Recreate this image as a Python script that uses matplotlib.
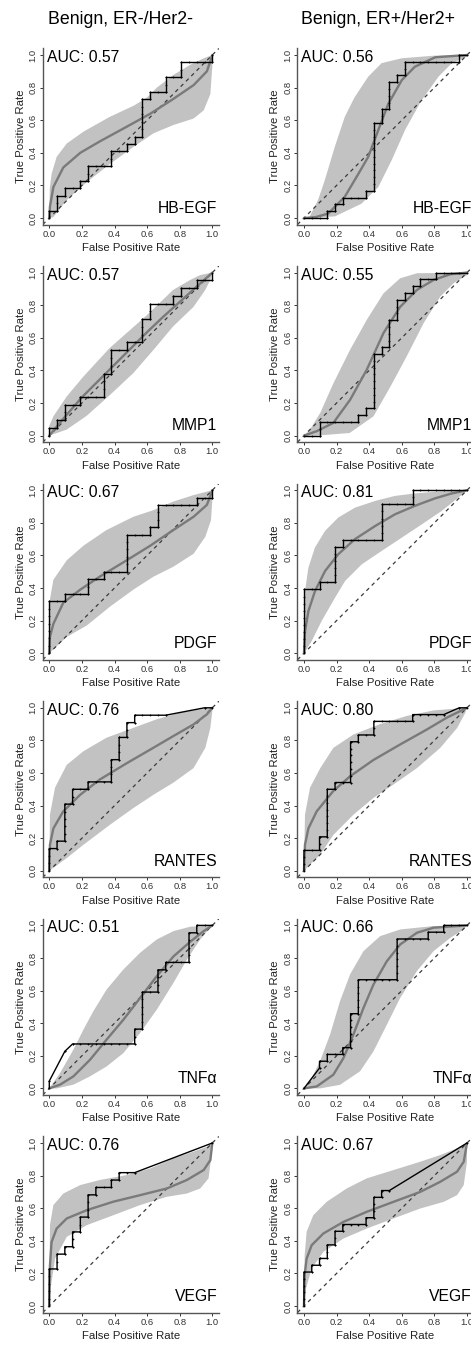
import matplotlib
matplotlib.use("Agg")
import matplotlib.pyplot as plt
import numpy as np

plt.rcParams['font.family'] = ['Liberation Sans', 'DejaVu Sans']

# ---------------- data ----------------
column_titles = ["Benign, ER-/Her2-", "Benign, ER+/Her2+"]
markers = ["HB-EGF", "MMP1", "PDGF", "RANTES", "TNF\u03b1", "VEGF"]
auc_neg = [0.57, 0.57, 0.67, 0.76, 0.51, 0.76]
auc_pos = [0.56, 0.55, 0.81, 0.80, 0.66, 0.67]
n_controls = 21
n_cases_neg = [22, 21, 22, 22, 22, 22]
n_cases_pos = [24, 24, 23, 24, 24, 24]
tick_values = [0.0, 0.2, 0.4, 0.6, 0.8, 1.0]
tick_labels = ["0.0", "0.2", "0.4", "0.6", "0.8", "1.0"]

# empirical ROC vertices, in counts of controls (FPR) and cases (TPR)
hbegf_neg_step_fp = [0,0,1,1,2,2,4,4,5,5,8,8,10,10,11,11,12,12,13,13,15,15,17,17,21,21]
hbegf_neg_step_tp = [0,1,1,3,3,4,4,5,5,7,7,9,9,10,10,11,11,16,16,17,17,19,19,21,21,22]
hbegf_pos_step_fp = [0,3,3,4,4,5,5,8,8,9,9,10,10,11,11,12,12,13,13,20,20,21]
hbegf_pos_step_tp = [0,0,1,1,2,2,3,3,4,4,14,14,16,16,20,20,21,21,23,23,24,24]
mmp1_neg_step_fp = [0,0,1,1,2,2,4,4,7,7,8,8,10,10,12,12,13,13,16,16,17,17,19,19,21,21]
mmp1_neg_step_tp = [0,1,1,2,2,4,4,5,5,8,8,11,11,12,12,15,15,17,17,18,18,19,19,20,20,21]
mmp1_pos_step_fp = [0,2,2,7,7,8,8,9,9,10,10,11,11,12,12,13,13,14,14,15,15,17,17,21]
mmp1_pos_step_tp = [0,0,2,2,3,3,4,4,12,12,13,13,17,17,20,20,21,21,22,22,23,23,24,24]
pdgf_neg_step_fp = [0,0,2,2,5,5,7,7,10,10,13,13,14,14,19,19,21,21]
pdgf_neg_step_tp = [0,7,7,8,8,10,10,11,11,16,16,17,17,20,20,21,21,22]
pdgf_pos_step_fp = [0,0,2,2,4,4,5,5,10,10,14,14,21]
pdgf_pos_step_tp = [0,9,9,10,10,15,15,16,16,21,21,23,23]
rantes_neg_step_fp = [0,0,1,1,2,2,3,3,5,5,8,8,9,9,10,10,11,11,15,20,21]
rantes_neg_step_tp = [0,3,3,4,4,9,9,11,11,12,12,15,15,18,18,20,20,21,21,22,22]
rantes_pos_step_fp = [0,0,2,2,3,3,4,4,6,6,7,7,9,9,14,14,18,20,21]
rantes_pos_step_tp = [0,3,3,5,5,12,12,13,13,19,19,20,20,22,22,23,23,24,24]
tnfa_neg_step_fp = [0,0,2,3,11,11,12,12,14,14,15,15,18,18,19,19,21]
tnfa_neg_step_tp = [0,1,5,6,6,8,8,13,13,16,16,17,17,21,21,22,22]
tnfa_pos_step_fp = [0,2,2,3,3,5,5,6,6,7,7,12,12,16,16,18,18,21]
tnfa_pos_step_tp = [0,3,4,4,5,5,6,6,11,11,16,16,22,22,23,23,24,24]
vegf_neg_step_fp = [0,0,1,1,2,2,3,3,4,4,5,5,6,6,8,8,9,9,11,21]
vegf_neg_step_tp = [0,5,5,7,7,8,8,10,10,12,12,15,15,16,16,17,17,18,18,22]
vegf_pos_step_fp = [0,0,1,1,2,2,3,3,4,4,5,5,8,8,9,9,10,10,11,21]
vegf_pos_step_tp = [0,5,5,6,6,7,7,9,9,11,11,12,12,13,13,16,16,17,17,24]

# smoothed ROC curves (FPR, TPR)
hbegf_neg_fit_x = [0,0.004,0.025,0.086,0.19,0.31,0.475,0.62,0.76,0.885,0.967,1]
hbegf_neg_fit_y = [0,0.07,0.19,0.31,0.40,0.47,0.56,0.64,0.73,0.815,0.90,1]
hbegf_pos_fit_x = [0,0.07,0.148,0.25,0.333,0.394,0.456,0.517,0.6,0.68,0.805,1]
hbegf_pos_fit_y = [0,0.005,0.027,0.13,0.27,0.375,0.54,0.70,0.846,0.928,0.986,1]
mmp1_neg_fit_x = [0,0.1,0.2,0.3,0.4,0.5,0.6,0.7,0.8,0.9,1]
mmp1_neg_fit_y = [0,0.12,0.235,0.335,0.435,0.535,0.635,0.73,0.82,0.91,1]
mmp1_pos_fit_x = [0,0.078,0.18,0.283,0.385,0.488,0.59,0.693,0.795,0.898,1]
mmp1_pos_fit_y = [0,0.027,0.078,0.22,0.404,0.63,0.79,0.894,0.955,0.99,1]
pdgf_neg_fit_x = [0,0.004,0.025,0.086,0.19,0.31,0.475,0.62,0.76,0.885,0.967,1]
pdgf_neg_fit_y = [0,0.1,0.18,0.31,0.39,0.47,0.57,0.66,0.755,0.837,0.91,1]
pdgf_pos_fit_x = [0,0.006,0.027,0.067,0.129,0.21,0.313,0.436,0.558,0.68,0.804,0.906,1]
pdgf_pos_fit_y = [0,0.135,0.258,0.38,0.504,0.607,0.70,0.78,0.852,0.904,0.95,0.98,1]
rantes_neg_fit_x = [0,0.004,0.025,0.086,0.19,0.31,0.475,0.62,0.76,0.885,0.967,1]
rantes_neg_fit_y = [0,0.16,0.26,0.365,0.467,0.56,0.66,0.744,0.826,0.898,0.96,1]
rantes_pos_fit_x = [0,0.006,0.027,0.078,0.18,0.283,0.426,0.59,0.754,0.877,1]
rantes_pos_fit_y = [0,0.16,0.26,0.365,0.49,0.58,0.68,0.775,0.867,0.94,1]
tnfa_neg_fit_x = [0,0.066,0.148,0.25,0.352,0.455,0.557,0.66,0.762,0.865,0.947,1]
tnfa_neg_fit_y = [0,0.023,0.074,0.176,0.30,0.422,0.555,0.689,0.81,0.90,0.965,1]
tnfa_pos_fit_x = [0,0.078,0.18,0.242,0.303,0.365,0.426,0.508,0.59,0.693,0.795,1]
tnfa_pos_fit_y = [0,0.012,0.084,0.186,0.33,0.494,0.637,0.78,0.883,0.955,0.986,1]
vegf_neg_fit_x = [0,0.004,0.014,0.045,0.107,0.23,0.393,0.557,0.721,0.844,0.947,0.988,1]
vegf_neg_fit_y = [0,0.25,0.393,0.475,0.537,0.588,0.64,0.68,0.721,0.773,0.834,0.895,1]
vegf_pos_fit_x = [0,0.004,0.016,0.047,0.119,0.242,0.385,0.549,0.713,0.836,0.939,0.98,1]
vegf_pos_fit_y = [0,0.19,0.29,0.373,0.445,0.516,0.578,0.639,0.70,0.762,0.824,0.885,1]

# confidence band edges (upper and lower), FPR / TPR
hbegf_neg_up_x = [0,0.003,0.014,0.045,0.107,0.21,0.37,0.52,0.6,0.66,0.76,0.865,0.947,1]
hbegf_neg_up_y = [0,0.18,0.27,0.375,0.457,0.53,0.62,0.69,0.74,0.80,0.877,0.94,0.98,1]
hbegf_neg_lo_x = [0,0.025,0.107,0.23,0.37,0.516,0.64,0.76,0.885,0.947,0.988,1,1]
hbegf_neg_lo_y = [0,0.006,0.11,0.22,0.33,0.436,0.52,0.57,0.61,0.66,0.76,0.93,1]
hbegf_pos_up_x = [0.03,0.086,0.127,0.19,0.25,0.31,0.394,0.476,0.6,0.8,1]
hbegf_pos_up_y = [0,0.11,0.23,0.44,0.62,0.74,0.867,0.95,0.98,0.996,1]
hbegf_pos_lo_x = [0.03,0.19,0.353,0.456,0.538,0.62,0.72,0.825,0.907,1]
hbegf_pos_lo_y = [0,0.01,0.088,0.19,0.355,0.54,0.72,0.867,0.95,0.99]
mmp1_neg_up_x = [0,0,0.025,0.107,0.21,0.37,0.6,0.76,0.865,0.926,1]
mmp1_neg_up_y = [0,0.06,0.118,0.24,0.363,0.537,0.74,0.894,0.955,0.985,1]
mmp1_neg_lo_x = [0,0.107,0.23,0.373,0.516,0.64,0.76,0.885,0.957,0.988,1]
mmp1_neg_lo_y = [0,0.037,0.122,0.25,0.384,0.527,0.67,0.79,0.894,0.955,1]
mmp1_pos_up_x = [0,0.037,0.1,0.18,0.283,0.385,0.488,0.59,0.693,1]
mmp1_pos_up_y = [0,0.037,0.14,0.32,0.527,0.71,0.873,0.965,0.996,1]
mmp1_pos_lo_x = [0.078,0.28,0.426,0.53,0.63,0.734,0.836,0.918,1]
mmp1_pos_lo_y = [0,0.016,0.118,0.3,0.486,0.69,0.853,0.935,0.985]
pdgf_neg_up_x = [0,0.004,0.025,0.107,0.21,0.35,0.516,0.64,0.76,0.885,1]
pdgf_neg_up_y = [0,0.33,0.45,0.57,0.66,0.755,0.837,0.878,0.93,0.97,1]
pdgf_neg_lo_x = [0,0.107,0.23,0.373,0.516,0.64,0.76,0.885,0.957,0.992,1,1]
pdgf_neg_lo_y = [0,0.1,0.17,0.286,0.39,0.47,0.53,0.61,0.714,0.816,0.94,1]
pdgf_pos_up_x = [0,0.006,0.027,0.067,0.129,0.21,0.313,0.436,0.558,0.68,0.824,1]
pdgf_pos_up_y = [0,0.38,0.525,0.648,0.75,0.832,0.893,0.934,0.965,0.98,0.992,1]
pdgf_pos_lo_x = [0,0.047,0.108,0.19,0.252,0.354,0.476,0.6,0.722,0.845,0.947,1]
pdgf_pos_lo_y = [0,0.074,0.197,0.34,0.443,0.545,0.627,0.709,0.79,0.873,0.955,0.996]
rantes_neg_up_x = [0,0.004,0.035,0.107,0.21,0.35,0.516,0.66,0.8,0.926,1]
rantes_neg_up_y = [0,0.344,0.51,0.65,0.734,0.816,0.877,0.93,0.97,0.99,1]
rantes_neg_lo_x = [0,0.107,0.21,0.373,0.516,0.64,0.76,0.885,0.957,0.988,1,1]
rantes_neg_lo_y = [0,0.078,0.16,0.283,0.385,0.467,0.54,0.63,0.754,0.877,0.98,1]
rantes_pos_up_x = [0,0.006,0.037,0.1,0.18,0.303,0.467,0.63,0.795,1]
rantes_pos_up_y = [0,0.344,0.51,0.63,0.754,0.836,0.9,0.95,0.984,1]
rantes_pos_lo_x = [0,0.1,0.18,0.303,0.426,0.55,0.693,0.836,0.94,0.99,1]
rantes_pos_lo_y = [0,0.1,0.22,0.344,0.447,0.53,0.63,0.754,0.877,0.97,1]
tnfa_neg_up_x = [0,0.066,0.148,0.209,0.27,0.352,0.455,0.557,0.66,0.762,0.865,1]
tnfa_neg_up_y = [0,0.094,0.238,0.36,0.473,0.607,0.73,0.832,0.914,0.965,0.992,1]
tnfa_neg_lo_x = [0,0.045,0.148,0.25,0.352,0.455,0.557,0.66,0.762,0.844,0.926,0.988,1]
tnfa_neg_lo_y = [0,0,0.023,0.074,0.135,0.217,0.34,0.484,0.648,0.79,0.914,0.986,1]
tnfa_pos_up_x = [0,0.037,0.098,0.16,0.221,0.283,0.365,0.467,0.59,0.795,1]
tnfa_pos_up_y = [0,0.043,0.166,0.33,0.535,0.70,0.842,0.934,0.975,0.996,1]
tnfa_pos_lo_x = [0.1,0.221,0.344,0.426,0.508,0.59,0.693,0.795,0.898,0.98,1]
tnfa_pos_lo_y = [0,0.022,0.105,0.227,0.39,0.555,0.72,0.842,0.924,0.975,1]
vegf_neg_up_x = [0,0.004,0.025,0.086,0.19,0.31,0.475,0.62,0.762,0.885,0.967,1]
vegf_neg_up_y = [0,0.496,0.619,0.69,0.742,0.773,0.803,0.844,0.906,0.947,0.977,1]
vegf_neg_lo_x = [0,0.008,0.035,0.107,0.23,0.393,0.557,0.721,0.844,0.926,0.977,1,1]
vegf_neg_lo_y = [0,0.107,0.29,0.424,0.496,0.557,0.619,0.67,0.69,0.721,0.783,0.967,1]
vegf_pos_up_x = [0,0.004,0.016,0.057,0.139,0.262,0.385,0.549,0.713,0.836,0.939,1]
vegf_pos_up_y = [0,0.31,0.455,0.557,0.639,0.721,0.783,0.834,0.885,0.926,0.967,1]
vegf_pos_lo_x = [0,0.012,0.047,0.119,0.242,0.385,0.549,0.713,0.857,0.939,0.98,1,1]
vegf_pos_lo_y = [0,0.107,0.23,0.332,0.414,0.475,0.537,0.598,0.639,0.68,0.742,0.885,1]

# ---------------- assemble ----------------
panels = [
    [(hbegf_neg_step_fp, hbegf_neg_step_tp, hbegf_neg_fit_x, hbegf_neg_fit_y, hbegf_neg_up_x, hbegf_neg_up_y, hbegf_neg_lo_x, hbegf_neg_lo_y),
     (hbegf_pos_step_fp, hbegf_pos_step_tp, hbegf_pos_fit_x, hbegf_pos_fit_y, hbegf_pos_up_x, hbegf_pos_up_y, hbegf_pos_lo_x, hbegf_pos_lo_y)],
    [(mmp1_neg_step_fp, mmp1_neg_step_tp, mmp1_neg_fit_x, mmp1_neg_fit_y, mmp1_neg_up_x, mmp1_neg_up_y, mmp1_neg_lo_x, mmp1_neg_lo_y),
     (mmp1_pos_step_fp, mmp1_pos_step_tp, mmp1_pos_fit_x, mmp1_pos_fit_y, mmp1_pos_up_x, mmp1_pos_up_y, mmp1_pos_lo_x, mmp1_pos_lo_y)],
    [(pdgf_neg_step_fp, pdgf_neg_step_tp, pdgf_neg_fit_x, pdgf_neg_fit_y, pdgf_neg_up_x, pdgf_neg_up_y, pdgf_neg_lo_x, pdgf_neg_lo_y),
     (pdgf_pos_step_fp, pdgf_pos_step_tp, pdgf_pos_fit_x, pdgf_pos_fit_y, pdgf_pos_up_x, pdgf_pos_up_y, pdgf_pos_lo_x, pdgf_pos_lo_y)],
    [(rantes_neg_step_fp, rantes_neg_step_tp, rantes_neg_fit_x, rantes_neg_fit_y, rantes_neg_up_x, rantes_neg_up_y, rantes_neg_lo_x, rantes_neg_lo_y),
     (rantes_pos_step_fp, rantes_pos_step_tp, rantes_pos_fit_x, rantes_pos_fit_y, rantes_pos_up_x, rantes_pos_up_y, rantes_pos_lo_x, rantes_pos_lo_y)],
    [(tnfa_neg_step_fp, tnfa_neg_step_tp, tnfa_neg_fit_x, tnfa_neg_fit_y, tnfa_neg_up_x, tnfa_neg_up_y, tnfa_neg_lo_x, tnfa_neg_lo_y),
     (tnfa_pos_step_fp, tnfa_pos_step_tp, tnfa_pos_fit_x, tnfa_pos_fit_y, tnfa_pos_up_x, tnfa_pos_up_y, tnfa_pos_lo_x, tnfa_pos_lo_y)],
    [(vegf_neg_step_fp, vegf_neg_step_tp, vegf_neg_fit_x, vegf_neg_fit_y, vegf_neg_up_x, vegf_neg_up_y, vegf_neg_lo_x, vegf_neg_lo_y),
     (vegf_pos_step_fp, vegf_pos_step_tp, vegf_pos_fit_x, vegf_pos_fit_y, vegf_pos_up_x, vegf_pos_up_y, vegf_pos_lo_x, vegf_pos_lo_y)],
]
aucs = [auc_neg, auc_pos]
n_cases = [n_cases_neg, n_cases_pos]


def roc_points(fp, tp):
    """all empirical ROC points lying on the staircase (one per threshold)"""
    px, py = [], []
    for i in range(len(fp) - 1):
        x0, y0, x1, y1 = fp[i], tp[i], fp[i + 1], tp[i + 1]
        if x0 == x1:
            for j in range(min(y0, y1), max(y0, y1) + 1):
                px.append(x0); py.append(j)
        elif y0 == y1:
            for k in range(min(x0, x1), max(x0, x1) + 1):
                px.append(k); py.append(y0)
        else:
            px += [x0, x1]; py += [y0, y1]
    return px, py


W, H = 471.0, 1345.0
fig = plt.figure(figsize=(W / 100, H / 100), dpi=100)

unit = 163.0
pad = 0.04 * unit
size = 1.08 * unit
col_x0 = [49.3, 304.0]
row_y1 = [55.0 + 217.6 * r for r in range(6)]
title_x = [121.0, 378.0]

for c in range(2):
    fig.text(title_x[c] / W, 1 - 20.0 / H, column_titles[c], ha='center', va='center',
             fontsize=12.8, color='black')

for r in range(6):
    for c in range(2):
        fp, tp, fx, fy, ux, uy, lx, ly = panels[r][c]
        npos = n_cases[c][r]
        left = (col_x0[c] - pad) / W
        bottom = 1 - (row_y1[r] - pad + size) / H
        ax = fig.add_axes([left, bottom, size / W, size / H])
        ax.set_xlim(-0.04, 1.04)
        ax.set_ylim(-0.04, 1.04)

        # band
        bx = list(ux) + list(lx)[::-1]
        by = list(uy) + list(ly)[::-1]
        ax.fill(bx, by, color='#c2c2c2', lw=0, zorder=1)
        # chance diagonal
        ax.plot([-0.04, 1.04], [-0.04, 1.04], color='#3a3a3a', lw=0.9,
                ls=(0, (3.0, 3.0)), zorder=2)
        # smooth fit
        ax.plot(fx, fy, color='#7a7a7a', lw=1.7, zorder=3, solid_capstyle='round')
        # empirical staircase
        sx = np.array(fp) / n_controls
        sy = np.array(tp) / npos
        ax.plot(sx, sy, color='black', lw=1.0, zorder=4)
        dx, dy = roc_points(fp, tp)
        ax.plot(np.array(dx) / n_controls, np.array(dy) / npos, ls='none', marker='o',
                ms=1.3, mew=0, color='black', zorder=5)

        ax.text(-0.017, 0.985, "AUC: %.2f" % aucs[c][r], ha='left', va='center',
                fontsize=11.3, color='black', zorder=6)
        ax.text(1.03, 0.06, markers[r], ha='right', va='center', fontsize=11.3,
                color='black', zorder=6)

        for s in ['top', 'right']:
            ax.spines[s].set_visible(False)
        for s in ['left', 'bottom']:
            ax.spines[s].set_color('#555555')
            ax.spines[s].set_linewidth(1.0)
        ax.set_xticks(tick_values)
        ax.set_xticklabels(tick_labels)
        ax.set_yticks(tick_values)
        ax.set_yticklabels(tick_labels, rotation=90, va='center')
        ax.tick_params(axis='both', labelsize=6.8, length=2.5, width=0.7, pad=1.2,
                       colors='#333333', labelcolor='#333333')
        ax.text(0.5, -23.5 / size, "False Positive Rate", transform=ax.transAxes,
                ha='center', va='center', fontsize=8.2, color='#222222')
        ax.text(-22.0 / size, 0.5, "True Positive Rate", transform=ax.transAxes,
                ha='center', va='center', rotation=90, fontsize=8.2, color='#222222')

fig.savefig("out.png", dpi=100, facecolor='white')
